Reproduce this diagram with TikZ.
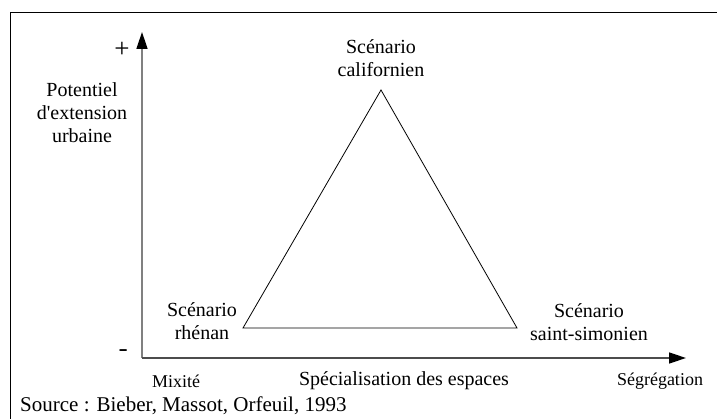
\documentclass[tikz,border=0pt]{standalone}
\usepackage{fontspec}
\setmainfont{Liberation Serif}
\usetikzlibrary{arrows.meta,positioning}
\tikzset{
  every picture/.style={font=\fontsize{20}{23}\selectfont},
  txt/.style={align=center,inner sep=0pt},
  small/.style={txt,font=\fontsize{18}{21}\selectfont},
  axe/.style={line width=1.5pt,-{Triangle[length=17pt,width=11pt,black]}},
  side/.style={line width=0.8pt},
}
\begin{document}
\begin{tikzpicture}[x=1pt,y=-1pt]
  \useasboundingbox (0,0) rectangle (718,419);
  % cadre
  \draw[line width=1pt] (10,419) -- (10,13) -- (717,13);
  % axes
  \coordinate (origin) at (142,358);
  \coordinate (ytip) at (142,32);
  \coordinate (xtip) at (686,358);
  \draw[axe,draw=gray] (origin) -- (ytip);
  \draw[axe,draw=black!70] (origin) -- (xtip);
  \node[txt,font=\fontsize{27}{30}\selectfont] (plus) at (122,50) {+};
  \node[txt,font=\fontsize{26}{30}\sffamily\bfseries] (minus) at (124,353) {-};
  \node[txt] (ylab) at (82,113) {Potentiel\\d\textquotesingle extension\\urbaine};
  \node[small] (mix) at (176,381) {Mixité};
  \node[txt] (xlab) at (404,381) {Spécialisation des espaces};
  \node[small] (seg) at (660,381) {Ségrégation};
  % triangle
  \coordinate (top) at (381,90);
  \coordinate (left) at (243,328);
  \coordinate (right) at (517,328);
  \draw[side] (top) -- (left) -- (right) -- cycle;
  \node[txt] (calif) at (381,58) {Scénario\\californien};
  \node[txt] (rhen) at (202,321) {Scénario\\rhénan};
  \node[txt] (saint) at (589,322) {Scénario\\saint-simonien};
  % source
  \node[txt,anchor=west,font=\fontsize{21}{24}\selectfont] (src) at (20,406) {Source : Bieber, Massot, Orfeuil, 1993};
\end{tikzpicture}
\end{document}
